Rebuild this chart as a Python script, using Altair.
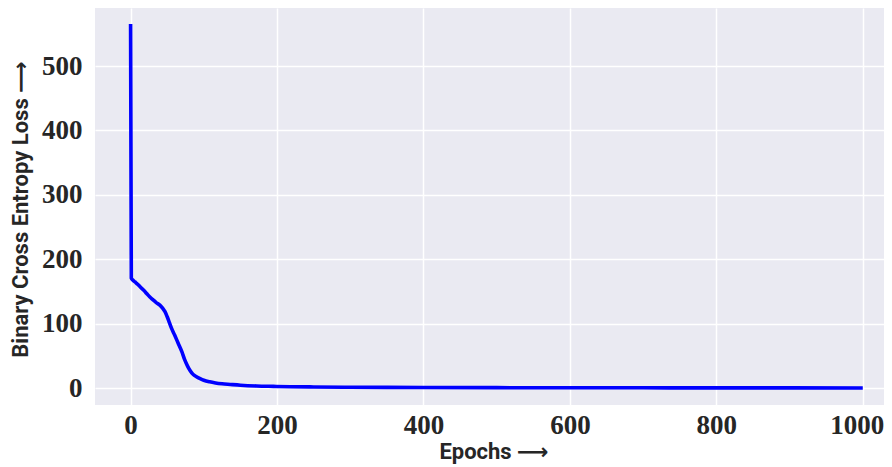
import altair as alt
import pandas as pd

epochs = [0, 1, 3, 6, 10, 13, 18, 22, 26, 30, 35, 40, 44, 47, 50, 53, 56, 60, 65, 70, 74, 78, 81, 85, 90, 95, 100, 108, 116, 125, 136, 150, 172, 195, 218, 250, 300, 350, 400, 500, 600, 700, 800, 900, 1000]
loss = [565, 171, 168, 165, 161, 157.5, 152, 147, 142, 138, 133, 129, 124, 119, 111, 102, 93, 83, 70, 57, 44, 34, 28, 22, 18, 15, 12.5, 10, 8.3, 7, 6, 4.8, 3.6, 3.0, 2.5, 2.1, 1.7, 1.4, 1.2, 1.0, 0.85, 0.75, 0.65, 0.6, 0.55]

x_ticks = [0, 200, 400, 600, 800, 1000]
y_ticks = [0, 100, 200, 300, 400, 500]

df = pd.DataFrame({"epoch": epochs, "loss": loss})

tick_font = "Liberation Serif"
title_font = "Roboto, DejaVu Sans"

chart = alt.Chart(df).mark_line(
    color="#0000FF", strokeWidth=3.6, interpolate="monotone", clip=True
).encode(
    x=alt.X(
        "epoch:Q",
        scale=alt.Scale(domain=[-48.6, 1029], nice=False, zero=False),
        axis=alt.Axis(
            values=x_ticks, format="d", title="Epochs ⟶",
            tickSize=0, labelPadding=7, domain=False,
            labelOffset=alt.condition("datum.value == 1000", alt.value(-6), alt.value(0)),
            labelFont=tick_font, labelFontSize=27, labelFontWeight="bold", labelColor="#262626",
            titleFont=title_font, titleFontSize=22, titleFontWeight="bold", titleColor="#262626",
            titleX=398.5, titleY=53, titleBaseline="alphabetic",
            gridColor="white", gridWidth=1.5,
        ),
    ),
    y=alt.Y(
        "loss:Q",
        scale=alt.Scale(domain=[-25.9, 590], nice=False, zero=False),
        axis=alt.Axis(
            values=y_ticks, format="d", title="Binary Cross Entropy Loss ⟶",
            tickSize=0, labelPadding=13, domain=False,
            labelFont=tick_font, labelFontSize=27, labelFontWeight="bold", labelColor="#262626",
            titleFont=title_font, titleFontSize=22, titleFontWeight="bold", titleColor="#262626",
            titleX=-68, titleY=201, titleBaseline="alphabetic", titleAngle=270,
            gridColor="white", gridWidth=1.5,
        ),
    ),
).properties(
    width=789,
    height=397,
    background="white",
    autosize=alt.AutoSizeParams(type="none"),
    padding={"left": 87, "top": 0, "right": 0, "bottom": 62},
).configure_view(
    fill="#EAEAF2", stroke=None
)

chart.save("out.html", embed_options={"renderer": "svg", "actions": False})
